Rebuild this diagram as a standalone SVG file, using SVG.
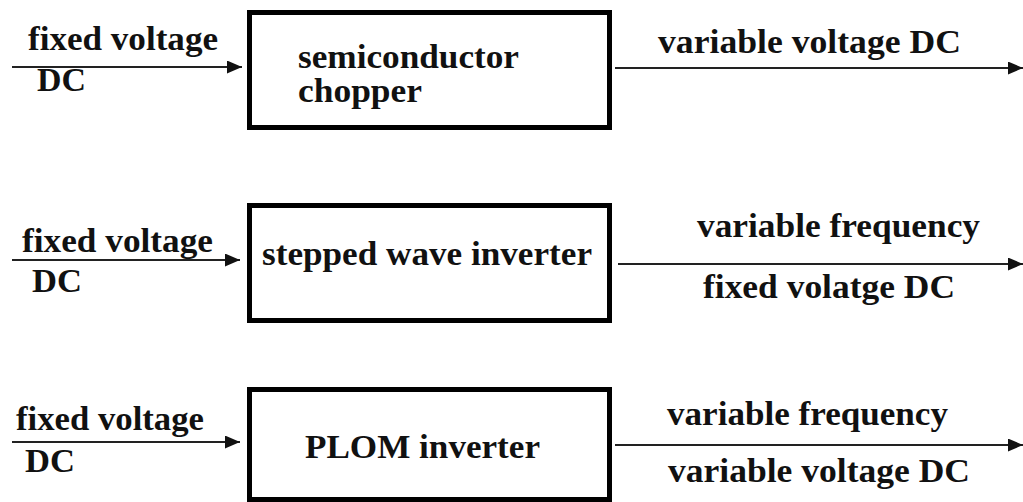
<svg xmlns="http://www.w3.org/2000/svg" width="1023" height="502" viewBox="0 0 1023 502">
<style>
.box{fill:#fff;stroke:#000;stroke-width:5}
.t{font-family:"Liberation Serif","Times New Roman",serif;font-weight:bold;font-size:33px;fill:#111}
.c{stroke:#222;stroke-width:2;fill:none}
</style>
<defs>
<marker id="ah" markerWidth="15" markerHeight="13" refX="15" refY="6.5" orient="auto" markerUnits="userSpaceOnUse">
<path d="M0,0 L15,6.5 L0,13 Z" fill="#111"/>
</marker>
</defs>
<rect width="1023" height="502" fill="#fff"/>
<g id="connectors">
<line class="c" x1="12" y1="67" x2="242" y2="67" marker-end="url(#ah)"/>
<line class="c" x1="615" y1="68" x2="1023" y2="68" marker-end="url(#ah)"/>
<line class="c" x1="12" y1="260" x2="240" y2="260" marker-end="url(#ah)"/>
<line class="c" x1="618" y1="264" x2="1023" y2="264" marker-end="url(#ah)"/>
<line class="c" x1="12" y1="442" x2="240" y2="442" marker-end="url(#ah)"/>
<line class="c" x1="615" y1="445" x2="1023" y2="445" marker-end="url(#ah)"/>
</g>
<g id="labels">
<text class="t" x="28" y="50" textLength="190" lengthAdjust="spacingAndGlyphs">fixed voltage</text>
<text class="t" x="37" y="91" textLength="49" lengthAdjust="spacingAndGlyphs">DC</text>
<text class="t" x="658" y="53" textLength="303" lengthAdjust="spacingAndGlyphs">variable voltage DC</text>
<text class="t" x="22" y="252" textLength="191" lengthAdjust="spacingAndGlyphs">fixed voltage</text>
<text class="t" x="32" y="292" textLength="50" lengthAdjust="spacingAndGlyphs">DC</text>
<text class="t" x="697" y="237" textLength="283" lengthAdjust="spacingAndGlyphs">variable frequency</text>
<text class="t" x="703" y="298" textLength="252" lengthAdjust="spacingAndGlyphs">fixed volatge DC</text>
<text class="t" x="16" y="430" textLength="188" lengthAdjust="spacingAndGlyphs">fixed voltage</text>
<text class="t" x="25" y="472" textLength="50" lengthAdjust="spacingAndGlyphs">DC</text>
<text class="t" x="667" y="425" textLength="281" lengthAdjust="spacingAndGlyphs">variable frequency</text>
<text class="t" x="668" y="482" textLength="302" lengthAdjust="spacingAndGlyphs">variable voltage DC</text>
</g>
<g id="chopper">
<rect class="box" x="249.5" y="12.5" width="360" height="115"/>
<text class="t" x="298" y="68" textLength="221" lengthAdjust="spacingAndGlyphs">semiconductor</text>
<text class="t" x="298" y="102" textLength="124" lengthAdjust="spacingAndGlyphs">chopper</text>
</g>
<g id="stepped">
<rect class="box" x="249.5" y="205.5" width="360" height="115"/>
<text class="t" x="262" y="265" textLength="330" lengthAdjust="spacingAndGlyphs">stepped wave inverter</text>
</g>
<g id="plom">
<rect class="box" x="249.5" y="389.5" width="360" height="110"/>
<text class="t" x="305" y="458" textLength="235" lengthAdjust="spacingAndGlyphs">PLOM inverter</text>
</g>
</svg>
